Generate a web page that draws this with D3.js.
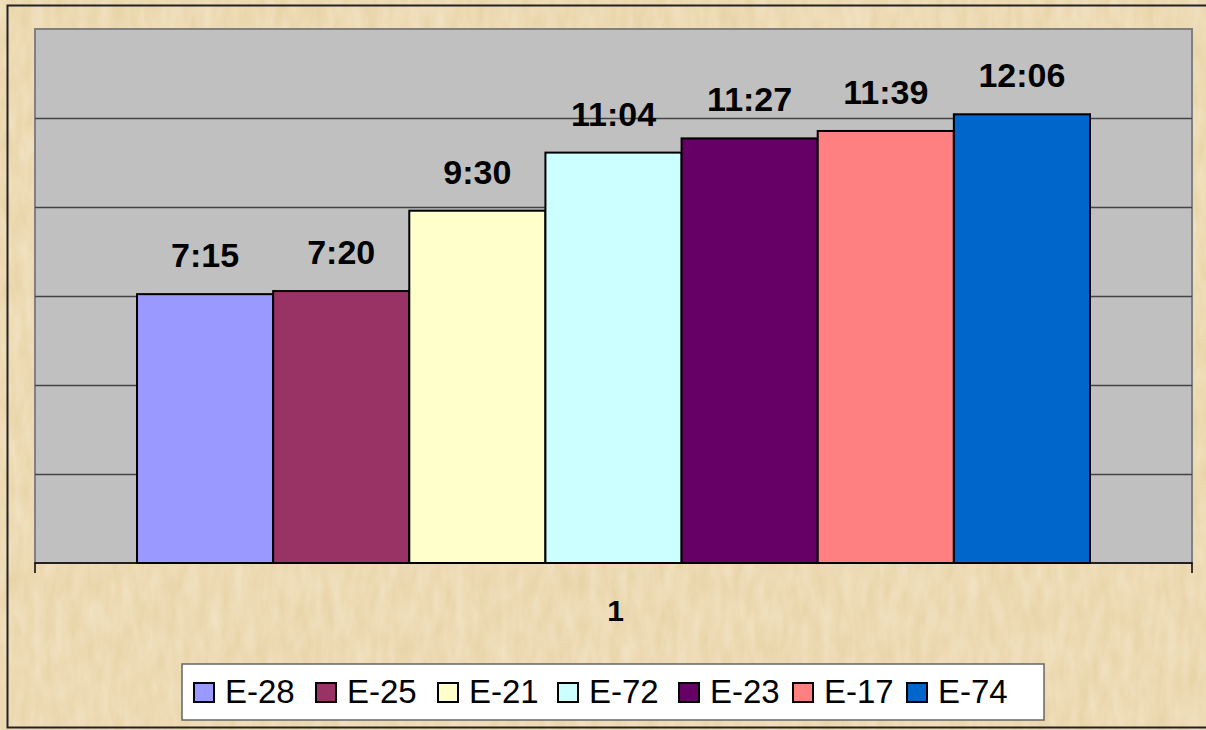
<!DOCTYPE html>
<html lang="en">
<head>
  <meta charset="UTF-8">
  <title>Times</title>
  <script src="https://d3js.org/d3.v7.min.js"></script>
  <style>
    body { margin:0; background:#efdcb4; }
    svg { display:block; font-family: Arial, "Liberation Sans", sans-serif; }
  </style>
</head>
<body>
  <svg width="1206" height="730"></svg>
  <script>
    const series = ['E-28', 'E-25', 'E-21', 'E-72', 'E-23', 'E-17', 'E-74']
    const times = ['7:15', '7:20', '9:30', '11:04', '11:27', '11:39', '12:06']
    const colors = ['#9999ff', '#993366', '#ffffcc', '#ccffff', '#660066', '#ff8080', '#0066cc']
    const category = '1'

    const toMin = t => { const [h, m] = t.split(':').map(Number); return h * 60 + m }
    const data = series.map((s, i) => ({ name: s, label: times[i], value: toMin(times[i]), color: colors[i] }))

    const width = 1206
    const height = 730
    const plot = { left: 35, top: 29, right: 1192, bottom: 563 }
    const svg = d3.select('svg')

    // parchment texture
    const defs = svg.append('defs')
    const f = defs.append('filter').attr('id', 'paper').attr('x', 0).attr('y', 0).attr('width', '100%').attr('height', '100%')
    f.append('feTurbulence').attr('type', 'fractalNoise').attr('baseFrequency', '0.09 0.03').attr('numOctaves', 3).attr('seed', 4).attr('result', 'n')
    f.append('feColorMatrix').attr('in', 'n').attr('type', 'matrix')
      .attr('values', '0 0 0 0 0.98  0 0 0 0 0.90  0 0 0 0 0.75  0.6 0 0 0 -0.1')
      .attr('result', 'c')
    svg.append('rect').attr('width', width).attr('height', height).attr('fill', '#e9d4a9')
    svg.append('rect').attr('width', width).attr('height', height).attr('filter', 'url(#paper)')

    // outer border
    svg.append('rect').attr('x', 7.5).attr('y', 5.5).attr('width', width + 10).attr('height', 722)
      .attr('fill', 'none').attr('stroke', '#222').attr('stroke-width', 2)

    const y = d3.scaleLinear().domain([0, 864]).range([plot.bottom, plot.top])
    const x0 = d3.scaleBand().domain([category]).range([plot.left, plot.right])
    const x1 = d3.scaleBand().domain(series).range([137, 1090])

    // plot area
    svg.append('rect').attr('x', plot.left).attr('y', plot.top)
      .attr('width', plot.right - plot.left).attr('height', plot.bottom - plot.top)
      .attr('fill', '#c0c0c0').attr('stroke', '#808080').attr('stroke-width', 2)

    const ticks = d3.range(0, 865, 144)
    svg.append('g').selectAll('line').data(ticks.filter(t => t > 0 && t < 864)).enter().append('line')
      .attr('x1', plot.left).attr('x2', plot.right)
      .attr('y1', d => Math.round(y(d)) + 0.5).attr('y2', d => Math.round(y(d)) + 0.5)
      .attr('stroke', '#444').attr('stroke-width', 1.5)

    // bars
    svg.append('g').selectAll('rect').data(data).enter().append('rect')
      .attr('x', d => x1(d.name)).attr('width', x1.bandwidth())
      .attr('y', d => y(d.value)).attr('height', d => y(0) - y(d.value))
      .attr('fill', d => d.color).attr('stroke', '#000').attr('stroke-width', 2)

    svg.append('g').selectAll('text').data(data).enter().append('text')
      .attr('x', d => x1(d.name) + x1.bandwidth() / 2).attr('y', d => y(d.value) - 27)
      .attr('text-anchor', 'middle').attr('font-size', 34).attr('font-weight', 'bold')
      .text(d => d.label)

    // category axis
    const xAxis = d3.axisBottom(x0).tickSize(10).tickFormat('')
    const ax = svg.append('g').attr('transform', 'translate(0,' + plot.bottom + ')').call(xAxis)
    ax.select('.domain').attr('stroke', '#000').attr('stroke-width', 1.5).attr('d', `M${plot.left},10V0H${plot.right}V10`)
    ax.selectAll('.tick').remove()
    svg.append('text').attr('x', x0(category) + x0.bandwidth() / 2 + 2).attr('y', 621)
      .attr('text-anchor', 'middle').attr('font-size', 30).attr('font-weight', 'bold').text(category)

    // legend
    const lg = svg.append('g')
    lg.append('rect').attr('x', 182).attr('y', 664).attr('width', 862).attr('height', 56)
      .attr('fill', '#fff').attr('stroke', '#666').attr('stroke-width', 1.5)
    const itemX = [194, 316, 438, 558, 679, 793, 907]
    const items = lg.selectAll('g.item').data(data).enter().append('g')
      .attr('transform', (d, i) => `translate(${itemX[i]},683)`)
    items.append('rect').attr('x', 0).attr('y', 0).attr('width', 20).attr('height', 19)
      .attr('fill', d => d.color).attr('stroke', '#000').attr('stroke-width', 2)
    items.append('text').attr('x', 31).attr('y', 20).attr('font-size', 33).text(d => d.name)
  </script>
</body>
</html>
